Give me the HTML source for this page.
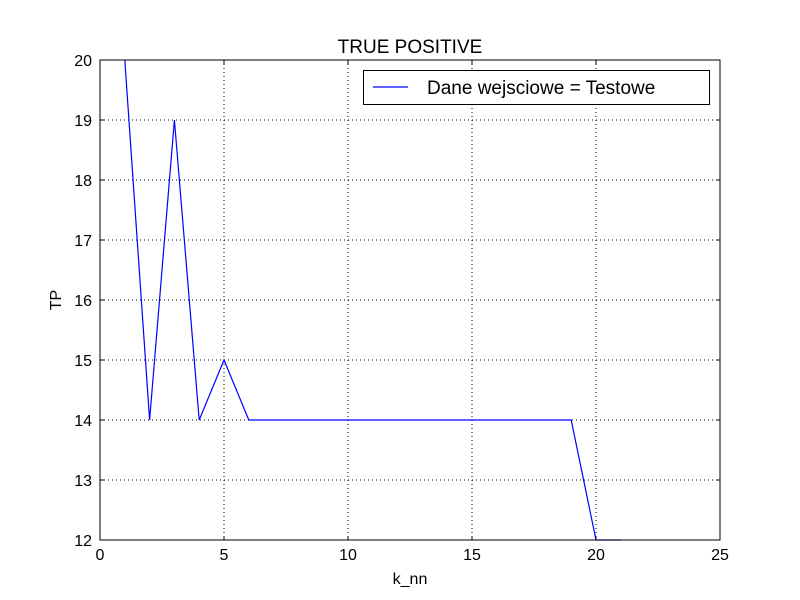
<!DOCTYPE html>
<html><head><meta charset="utf-8"><style>body{margin:0;background:#fff}svg{display:block}text{font-family:"Liberation Sans","DejaVu Sans",sans-serif}</style></head>
<body>
<svg id="c" width="800" height="600"></svg>
<script>
const xValues=[1,2,3,4,5,6,7,8,9,10,11,12,13,14,15,16,17,18,19,20,21];
const tpValues=[20,14,19,14,15,14,14,14,14,14,14,14,14,14,14,14,14,14,14,12,12];
const xTicks=[0,5,10,15,20,25];
const yTicks=[12,13,14,15,16,17,18,19,20];
const L=100,R=720,T=60,B=540,xMin=0,xMax=25,yMin=12,yMax=20;
const sx=v=>L+(v-xMin)/(xMax-xMin)*(R-L);
const sy=v=>B-(v-yMin)/(yMax-yMin)*(B-T);
const svg=document.getElementById('c');const NS='http://www.w3.org/2000/svg';
function mk(t,a,p){const e=document.createElementNS(NS,t);for(const k in a)e.setAttribute(k,a[k]);(p||svg).appendChild(e);return e;}
let e;
e=mk('rect',{x:0,y:0,width:800,height:600,fill:'#fff'});


xTicks.forEach(v=>{const x=sx(v);
 e=mk('line',{x1:x,x2:x,y1:T,y2:B,stroke:'#000','stroke-dasharray':'1,3','stroke-width':1});
 
 
 mk('line',{x1:x,x2:x,y1:B,y2:B-4,stroke:'#000'});mk('line',{x1:x,x2:x,y1:T,y2:T+4,stroke:'#000'});
 e=mk('text',{x:x,y:B+20,'text-anchor':'middle','font-size':16});e.textContent=v;
 
 });
yTicks.forEach(v=>{const y=sy(v);
 e=mk('line',{x1:L,x2:R,y1:y,y2:y,stroke:'#000','stroke-dasharray':'1,3','stroke-width':1});
 
 
 mk('line',{x1:L,x2:L+4,y1:y,y2:y,stroke:'#000'});mk('line',{x1:R,x2:R-4,y1:y,y2:y,stroke:'#000'});
 e=mk('text',{x:L-8,y:y+6,'text-anchor':'end','font-size':16});e.textContent=v;
 
 });
e=mk('polyline',{points:xValues.map((x,i)=>sx(x)+','+sy(tpValues[i])).join(' '),fill:'none',stroke:'#0000ff','stroke-width':1.2});


e=mk('rect',{x:L,y:T,width:R-L,height:B-T,fill:'none',stroke:'#000','stroke-width':1});


e=mk('text',{x:410,y:53,'text-anchor':'middle','font-size':19});e.textContent='TRUE POSITIVE';


e=mk('text',{x:410,y:584,'text-anchor':'middle','font-size':16});e.textContent='k_nn';


e=mk('text',{x:61,y:300,'text-anchor':'middle','font-size':16,transform:'rotate(-90 61 300)'});e.textContent='TP';


const g=mk('g',{});


mk('rect',{x:363.5,y:70.5,width:346,height:34,fill:'#fff',stroke:'#000'},g);
mk('line',{x1:373,x2:408,y1:87,y2:87,stroke:'#0000ff','stroke-width':1.2},g);
e=mk('text',{x:427,y:94,'font-size':19},g);e.textContent='Dane wejsciowe = Testowe';


</script>
</body></html>
